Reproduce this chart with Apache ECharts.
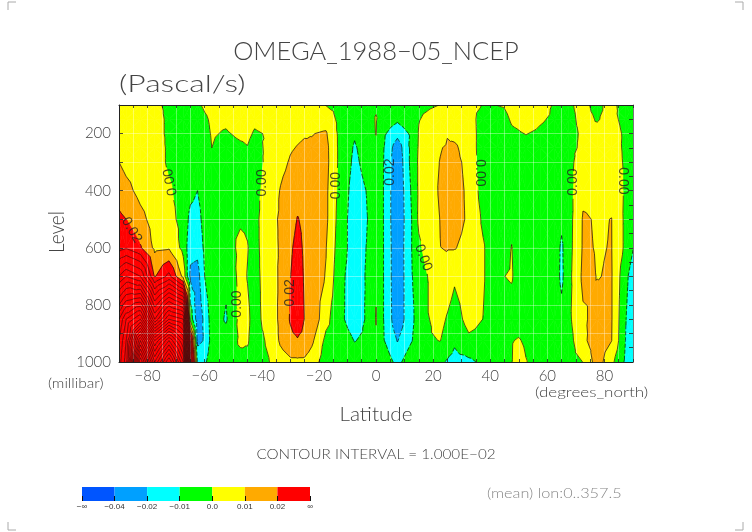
<!DOCTYPE html>
<html>
<head>
<meta charset="utf-8">
<style>html,body{margin:0;background:#fff}#chart{width:752px;height:532px}</style>
<script src="https://cdn.jsdelivr.net/npm/echarts@6/dist/echarts.min.js"></script>
</head>
<body>
<div id="chart"></div>
<script>
// pressure levels, top of the plot first
const levels = [100, 150, 200, 250, 300, 400, 500, 600, 700, 850, 925, 1000];
const latitudes = [-90, -87.5, -82.5, -77.5, -72.5, -67.5, -65, -62.5, -60, -57.5, -52.5, -47.5, -45, -42.5, -37.5, -32.5,
  -30, -27.5, -25, -22.5, -17.5, -12.5, -7.5, -2.5, 0, 2.5, 7.5, 12.5, 15, 17.5, 22.5, 25, 27.5, 32.5, 37.5, 42.5, 45, 47.5,
  50, 52.5, 57.5, 62.5, 65, 67.5, 72.5, 77.5, 82.5, 87.5, 90];
// omega in 0.001 Pascal/s, one row per latitude, one value per level
const omega = [
  [3, 4, 5, 7, 10, 16, 22, 26, 60, 120, 130, 135],
  [2, 3, 4, 5, 7, 13, 20, 29, 70, 140, 150, 155],
  [2, 3, 3, 4, 5, 7, 13, 21, 60, 160, 230, 280],
  [1, 2, 2, 3, 3, 4, 6, 8, 19, 90, 160, 200],
  [-1, -1, -1, -1, -1, 1, 3, 9, 33, 130, 200, 250],
  [-2, -3, -3, -3, -3, -3, -3, -3, 7, 120, 160, 190],
  [-2, -3, -4, -4, -4, -7, -13, -17, -22, -3, 40, 60],
  [-1, -3, -4, -5, -6, -10, -14, -17, -24, -26, -23, -11],
  [1, -1, -2, -3, -4, -5, -6, -8, -10, -18, -19, -12],
  [2, 1, 0.5, 0, -1, -2, -2, -3, -3, -5, -6, -4],
  [3, 1, -0.5, -2, -2, -2, -2, -4, -8, -11, -6, -3],
  [4, 3, 1, -1, -2, -2, -1, 2, 3, 3, 1.5, -3],
  [4, 2, 1, -0.2, -2, -2, -1, 0.3, -0.3, 1.5, 0.7, -2],
  [3, 1, -0.5, -2, -3, -3, -3, -3, -3, -3, -3, -3],
  [3, 2, 0.4, 1.4, 2, 4.1, 7, 6.2, 5, 3.8, 1.2, -0.3],
  [4, 5, 5, 6, 8, 12, 12, 12, 13, 14, 14, 5],
  [4, 6, 7, 9, 11, 14, 15, 18, 19.7, 21, 17, 8],
  [4, 7, 8, 10.5, 13, 16, 20.5, 24, 26, 27, 19, 8],
  [4, 8, 9, 12, 14, 16, 18, 18, 18.7, 19.7, 17, 8],
  [4, 6, 9.7, 11, 12, 14, 15, 15, 15, 18, 12, 5],
  [-0.3, 6, 11, 12.8, 13, 12, 12, 10.3, 9.5, 3, -2.6, -5],
  [-2, -3, -3, -3, -3, -4, -5, -6, -8, -8, -5, -3],
  [-2, -5, -9, -11, -12, -14, -15, -14, -14, -15, -10.3, -6],
  [-1, -3, -3, -5, -6, -9, -9.5, -9, -8.5, -8, -8, -5],
  [-1, 0.5, 0.3, -2, -3, -5, -5, -3, -1, 0.4, -1, -2],
  [-1, -4, -8, -9, -9.5, -9.6, -9.6, -9.5, -9.5, -9.5, -9, -3],
  [-1, -8, -17, -26, -28, -29, -29, -28, -28, -27, -20.5, -13],
  [-1, -2, -8, -7, -6.6, -8.6, -10, -10, -10.5, -12, -10.5, -3],
  [-1, -0.3, 0.5, 1, 1.5, 1.5, 2, -2, -6, -6, -5, -3],
  [-1, 1, 3, 5, 6, 5, 5, 3, -1, -1, -1, -2],
  [0.1, 3, 5, 9.5, 10.3, 11, 10.2, 9.9, 8, 3, 0.2, -8.5],
  [1, 3.5, 9.5, 11, 12, 13, 13, 10.5, 6, -1, -4, -11],
  [2, 4, 7, 12, 13, 14, 14, 10.5, 1.5, -4.6, -8.5, -13],
  [1.5, 3, 4, 4.3, 7, 8, 8.4, 7, 6, 3.6, -2, -12],
  [-0.2, -3, -3.5, -3.8, -6, -4.3, -1.6, 1, 1, -0.1, -3, -8],
  [0.1, -3, -4, -5, -6, -6, -7, -7.6, -7.6, -7, -6, -5],
  [0.5, -1.5, -3, -4, -5, -5, -5, -3, -0.05, -3, -3, -3],
  [2, 0.7, -1, -3, -3, -3, -1.5, 0.2, 0.6, -3, -0.3, -0.2],
  [3, 1.5, -0.5, -3, -3, -3, -3, -3, -3, -3, 0.5, 3],
  [4, 3, 0.2, -2, -3, -3, -3, -3, -3, -3, -1, 0.3],
  [3, 0.7, -1, -3, -3, -3, -3, -3, -3, -3, -3, -3],
  [-0.7, -1, -2, -3, -3, -3, -4, -5, -5, -4, -3, -3],
  [-1, -1, -2, -3, -3, -4, -8, -11.5, -12, -7, -3, -2],
  [-1, -2, -2, -2, -2.8, -3.8, -4, -3.7, -3, -2, -4, -3],
  [2, 2, 1, 1.4, 5, 8, 10.8, 11, 12, 8.6, 8, 0.1],
  [-2.3, -0.5, 2, 3, 5, 8, 9.4, 9.6, 9.8, 13, 15, 15],
  [3.4, 2.4, 4, 5, 6, 8, 10.1, 10.2, 10.5, 10.5, 10.2, 2.5],
  [-6, -2.7, -1.7, -2.1, -1.8, -1.9, -2.4, -2.4, -7.6, -9.8, -10.5, -12],
  [-3, -3, -3, -3, -3, -3, -4, -9.6, -15, -17, -16, -16],
];

// shading, same units as omega
const bandEdges = [-Infinity, -40, -20, -10, 0, 10, 20, Infinity];
const bandColors = ['#0055ff', '#00a0ff', '#00ffff', '#00ff00', '#ffff00', '#ffaa00', '#ff0000'];
const colorbarLabels = ['−∞', '−0.04', '−0.02', '−0.01', '0.0', '0.01', '0.02', '∞'];
const contourStart = -30;
const contourEnd = 280;
const contourStep = 10;

// labels sitting in the gaps of the contour lines
const labelLats = [-71.9, -39.9, -13.8, -48.8, -30.1, -85.6, 5.1, 36.4, 68.9, 86.6, 16.6];
const labelLevels = [370, 373, 382, 797, 758, 538, 335, 338, 370, 366, 635];
const labelTexts = ['0.00', '0.00', '0.00', '0.00', '0.02', '0.02', '0.02', '0.00', '0.00', '0.00', '0.00'];
const labelAngles = [101, 90, 90, 90, 90, -60, 90, -90, 90, -90, -70];

const FONT = 'Lato, "Liberation Sans", sans-serif';
const INK = '#444';

const cells = [];
for (let i = 0; i < latitudes.length - 1; i++) {
  for (let j = 0; j < levels.length - 1; j++) cells.push([i, j]);
}

function cellTriangles(i, j) {
  const a = [latitudes[i], levels[j], omega[i][j]];
  const b = [latitudes[i + 1], levels[j], omega[i + 1][j]];
  const c = [latitudes[i + 1], levels[j + 1], omega[i + 1][j + 1]];
  const d = [latitudes[i], levels[j + 1], omega[i][j + 1]];
  const m = [0, 1, 2].map((k) => (a[k] + b[k] + c[k] + d[k]) / 4);
  return [[a, b, m], [b, c, m], [c, d, m], [d, a, m]];
}

function lerp(p, q, v) {
  const t = (v - p[2]) / (q[2] - p[2]);
  return [p[0] + (q[0] - p[0]) * t, p[1] + (q[1] - p[1]) * t, v];
}

// keep the part of a polygon on one side of value v
function clip(poly, v, keepAbove) {
  const out = [];
  poly.forEach((p, k) => {
    const q = poly[(k + 1) % poly.length];
    const pIn = keepAbove ? p[2] >= v : p[2] <= v;
    const qIn = keepAbove ? q[2] >= v : q[2] <= v;
    if (pIn) out.push(p);
    if (pIn !== qIn) out.push(lerp(p, q, v));
  });
  return out;
}

function renderFill(params, api) {
  const children = [];
  cellTriangles(api.value(0), api.value(1)).forEach((tri) => {
    bandColors.forEach((color, b) => {
      let poly = tri;
      if (isFinite(bandEdges[b])) poly = clip(poly, bandEdges[b], true);
      if (poly.length && isFinite(bandEdges[b + 1])) poly = clip(poly, bandEdges[b + 1], false);
      if (poly.length < 3) return;
      children.push({
        type: 'polygon',
        shape: { points: poly.map((p) => api.coord([p[0], p[1]])) },
        style: { fill: color, stroke: color, lineWidth: 0.6 },
        silent: true,
      });
    });
  });
  return { type: 'group', children };
}

function inLabelGap(pt, api) {
  return labelLats.some((lat, k) => {
    const c = api.coord([lat, labelLevels[k]]);
    const r = (labelAngles[k] * Math.PI) / 180;
    const dx = pt[0] - c[0];
    const dy = pt[1] - c[1];
    const along = dx * Math.cos(r) - dy * Math.sin(r);
    const across = dx * Math.sin(r) + dy * Math.cos(r);
    return Math.abs(along) < 15 && Math.abs(across) < 6;
  });
}

function renderContours(params, api) {
  const children = [];
  cellTriangles(api.value(0), api.value(1)).forEach((tri) => {
    for (let v = contourStart; v <= contourEnd; v += contourStep) {
      const pts = [];
      tri.forEach((p, k) => {
        const q = tri[(k + 1) % 3];
        if ((p[2] < v) !== (q[2] < v)) pts.push(lerp(p, q, v));
      });
      if (pts.length !== 2) continue;
      const s = api.coord([pts[0][0], pts[0][1]]);
      const e = api.coord([pts[1][0], pts[1][1]]);
      if (inLabelGap([(s[0] + e[0]) / 2, (s[1] + e[1]) / 2], api)) continue;
      children.push({
        type: 'line',
        shape: { x1: s[0], y1: s[1], x2: e[0], y2: e[1] },
        style: { stroke: '#111', lineWidth: v > 20 ? 0.55 : 0.7, lineDash: v < 0 ? [4, 2] : null },
        silent: true,
      });
    }
  });
  return { type: 'group', children };
}

function renderColorbar(params, api) {
  const p0 = api.coord([api.value(0), 1]);
  const p1 = api.coord([api.value(0) + 1, 0]);
  return {
    type: 'rect',
    shape: { x: p0[0], y: p0[1], width: p1[0] - p0[0], height: p1[1] - p0[1] },
    style: { fill: bandColors[api.value(0)] },
  };
}

function cropMark(points) {
  return { type: 'polyline', shape: { points }, style: { stroke: '#aaa', lineWidth: 1, fill: null } };
}

// stretchX widens the glyphs towards the broad plotter lettering of the original
function plainText(text, x, y, size, stretchX, extra) {
  const opts = extra || {};
  return {
    type: 'text',
    x,
    y,
    scaleX: opts.rotation ? 1 : stretchX,
    scaleY: opts.rotation ? stretchX : 1,
    rotation: opts.rotation || 0,
    style: {
      text,
      fill: opts.fill || INK,
      font: `300 ${size}px ${FONT}`,
      align: opts.align || 'left',
      verticalAlign: 'middle',
    },
  };
}

const axisLine = { show: true, onZero: false, lineStyle: { color: '#222', width: 1 } };
const axisTick = { show: true, inside: true, length: 3, lineStyle: { color: '#222', width: 0.8 } };
const whiteLines = { show: true, lineStyle: { color: 'rgba(255,255,255,0.35)', width: 1 } };

const chart = echarts.init(document.getElementById('chart'), null, { renderer: 'canvas' });
chart.setOption({
  animation: false,
  backgroundColor: '#fff',
  grid: [
    { left: 119, top: 105, width: 514, height: 257 },
    { left: 82, top: 487, width: 228, height: 14 },
  ],
  xAxis: [
    {
      type: 'value', gridIndex: 0, position: 'bottom', min: -90, max: 90, interval: 5, z: 4,
      axisLine, axisTick, splitLine: whiteLines,
      axisLabel: {
        margin: 7, fontFamily: FONT, fontWeight: 300, fontSize: 15, color: INK, hideOverlap: false,
        formatter: (v) => (v % 20 === 0 && Math.abs(v) < 90 ? String(v).replace('-', '−') : ''),
      },
    },
    {
      type: 'value', gridIndex: 0, position: 'top', min: -90, max: 90, interval: 5, z: 4,
      axisLine, axisTick, axisLabel: { show: false }, splitLine: { show: false },
    },
    {
      type: 'value', gridIndex: 1, min: 0, max: 7, interval: 1, z: 4,
      axisLine: { show: false },
      axisTick: { show: true, inside: true, length: 5, lineStyle: { color: '#111', width: 1 } },
      splitLine: { show: false },
      axisLabel: {
        margin: 2, fontFamily: '"Liberation Sans", sans-serif', fontSize: 8, color: '#333',
        formatter: (v) => colorbarLabels[v],
      },
    },
  ],
  yAxis: [
    {
      type: 'value', gridIndex: 0, position: 'left', inverse: true, min: 100, max: 1000, interval: 100, z: 4,
      axisLine, axisTick: { ...axisTick, length: 4 }, splitLine: whiteLines,
      axisLabel: {
        margin: 8, fontFamily: FONT, fontWeight: 300, fontSize: 15, color: INK,
        formatter: (v) => (v % 200 === 0 ? String(v) : ''),
      },
    },
    {
      type: 'value', gridIndex: 0, position: 'right', inverse: true, min: 100, max: 1000, interval: 50, z: 4,
      axisLine: { ...axisLine, lineStyle: { color: '#777', width: 1 } }, axisTick: { ...axisTick, length: 4 },
      axisLabel: { show: false }, splitLine: { show: false },
    },
    {
      type: 'value', gridIndex: 1, min: 0, max: 1, show: false,
    },
  ],
  series: [
    {
      type: 'custom', xAxisIndex: 0, yAxisIndex: 0, z: 1, clip: true, silent: true,
      renderItem: renderFill, data: cells,
    },
    {
      type: 'custom', xAxisIndex: 0, yAxisIndex: 0, z: 6, clip: true, silent: true,
      renderItem: renderContours, data: cells,
    },
    {
      type: 'scatter', xAxisIndex: 0, yAxisIndex: 0, z: 7, symbolSize: 0, silent: true,
      data: labelLats.map((lat, k) => ({
        value: [lat, labelLevels[k]],
        label: {
          show: true, position: 'inside', formatter: labelTexts[k], rotate: labelAngles[k],
          fontFamily: '"Liberation Sans", sans-serif', fontSize: 14, color: '#222',
        },
      })),
    },
    {
      type: 'custom', xAxisIndex: 2, yAxisIndex: 2, z: 1, silent: true,
      renderItem: renderColorbar, data: bandColors.map((c, k) => [k]),
    },
  ],
  graphic: [
    plainText('OMEGA_1988−05_NCEP', 376, 52, 25, 1.02, { align: 'center' }),
    plainText('(Pascal/s)', 119, 84, 24, 1.33),
    plainText('Level', 57, 232, 19, 1.12, { align: 'center', rotation: Math.PI / 2 }),
    plainText('(millibar)', 48, 384, 13, 1.2),
    plainText('Latitude', 376, 415, 19, 1.09, { align: 'center' }),
    plainText('(degrees_north)', 535, 393, 13, 1.31),
    plainText('CONTOUR INTERVAL = 1.000E−02', 376, 454, 14, 1.09, { align: 'center' }),
    plainText('(mean) lon:0..357.5', 487, 494, 13, 1.25, { fill: '#888' }),
    cropMark([[8, 10], [8, 2], [16, 2]]),
    cropMark([[735, 2], [743, 2], [743, 10]]),
    cropMark([[8, 522], [8, 530], [16, 530]]),
    cropMark([[735, 530], [743, 530], [743, 522]]),
  ],
});
</script>
</body>
</html>
